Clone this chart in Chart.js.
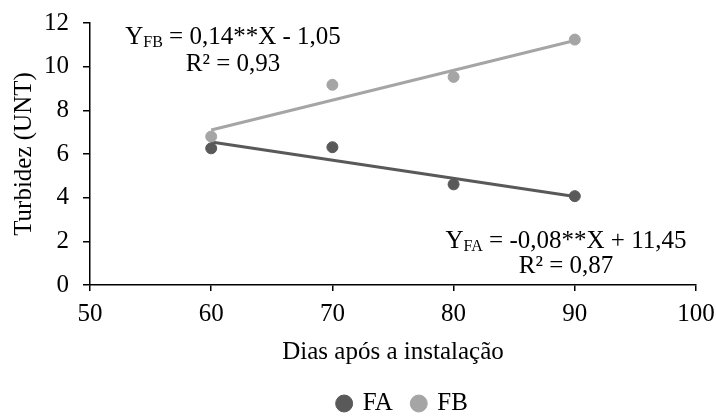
<!DOCTYPE html>
<html>
<head>
<meta charset="utf-8">
<script src="https://cdn.jsdelivr.net/npm/chart.js@4"></script>
<style>
  html, body { margin: 0; padding: 0; background: #fff; }
</style>
</head>
<body>
<canvas id="chart" width="716" height="418"></canvas>
<script>
// data
const days = [60, 70, 80, 90];
const faValues = [6.26, 6.31, 4.61, 4.07];
const fbValues = [6.8, 9.17, 9.53, 11.24];
// fitted lines, end points
const trendDays = [60, 90];
const faTrend = [6.55, 4.05];
const fbTrend = [7.1, 11.2];

const FONT = "'Liberation Serif', 'Times New Roman', serif";
const faColor = '#595959';
const fbColor = '#a5a5a5';

function pts(xs, ys) {
  return xs.map((x, i) => ({ x: x, y: ys[i] }));
}

// equations written on the plot, with subscripts
const equations = [
  { x: 233, y: 37, parts: [['Y'], ['FB', 1], [' = 0,14**X - 1,05']] },
  { x: 233, y: 64, parts: [['R² = 0,93']] },
  { x: 566, y: 241, parts: [['Y'], ['FA', 1], [' = -0,08**X + 11,45']] },
  { x: 566, y: 266, parts: [['R² = 0,87']] }
];

const eqPlugin = {
  id: 'equations',
  beforeLayout(chart) {
    // fixed legend height, and legend moved a bit right like in the picture
    const lg = chart.legend;
    if (lg && !lg._fixed) {
      const fit = lg.fit;
      const draw = lg.draw;
      lg.fit = function () { fit.call(this); this.height = 47; };
      lg.draw = function () {
        this.ctx.save();
        this.ctx.translate(55, 0);
        draw.call(this);
        this.ctx.restore();
      };
      lg._fixed = true;
    }
  },
  afterDatasetsDraw(chart) {
    const ctx = chart.ctx;
    ctx.save();
    ctx.fillStyle = '#000';
    ctx.textBaseline = 'middle';
    ctx.textAlign = 'left';
    equations.forEach(eq => {
      let w = 0;
      eq.parts.forEach(p => {
        ctx.font = (p[1] ? '16px ' : '25px ') + FONT;
        w += ctx.measureText(p[0]).width;
      });
      let x = eq.x - w / 2;
      eq.parts.forEach(p => {
        ctx.font = (p[1] ? '16px ' : '25px ') + FONT;
        ctx.fillText(p[0], x, eq.y + (p[1] ? 6 : 0));
        x += ctx.measureText(p[0]).width;
      });
    });
    ctx.restore();
  }
};

new Chart(document.getElementById('chart'), {
  type: 'scatter',
  data: {
    datasets: [
      { label: 'FA', data: pts(days, faValues), backgroundColor: faColor, borderColor: faColor,
        pointRadius: 5.5, pointHoverRadius: 5.5, order: 1 },
      { label: 'FB', data: pts(days, fbValues), backgroundColor: fbColor, borderColor: fbColor,
        pointRadius: 5.5, pointHoverRadius: 5.5, order: 1 },
      { label: 'trendFA', data: pts(trendDays, faTrend), showLine: true, borderColor: faColor,
        borderWidth: 3, pointRadius: 0, order: 2 },
      { label: 'trendFB', data: pts(trendDays, fbTrend), showLine: true, borderColor: fbColor,
        borderWidth: 3, pointRadius: 0, order: 2 }
    ]
  },
  options: {
    responsive: false,
    animation: false,
    layout: { padding: { top: 23, right: 20, left: 0, bottom: 0 } },
    plugins: {
      tooltip: { enabled: false },
      legend: {
        position: 'bottom',
        labels: {
          usePointStyle: true,
          pointStyle: 'circle',
          boxWidth: 12,
          boxHeight: 12,
          padding: 20,
          color: '#000',
          font: { family: FONT, size: 25 },
          filter: item => item.text === 'FA' || item.text === 'FB'
        }
      }
    },
    scales: {
      x: {
        type: 'linear',
        min: 50,
        max: 100,
        afterFit: s => { s.height = 86; s.paddingLeft = 0; s.paddingRight = 0; },
        ticks: { stepSize: 10, color: '#000', padding: 8, font: { family: FONT, size: 25 } },
        grid: { drawOnChartArea: false, tickLength: 6, color: '#000', lineWidth: 1.5 },
        border: { color: '#000', width: 1.5 },
        title: { display: true, text: 'Dias após a instalação', color: '#000',
                 font: { family: FONT, size: 25 }, padding: { top: 0, bottom: 4 } }
      },
      y: {
        min: 0,
        max: 12,
        afterFit: s => { s.width = 90; s.paddingTop = 0; s.paddingBottom = 0; },
        ticks: { stepSize: 2, color: '#000', padding: 14, font: { family: FONT, size: 25 } },
        grid: { drawOnChartArea: false, tickLength: 7, color: '#000', lineWidth: 1.5 },
        border: { color: '#000', width: 1.5 },
        title: { display: true, text: 'Turbidez (UNT)', color: '#000',
                 font: { family: FONT, size: 25 }, padding: { top: 9, bottom: 0 } }
      }
    }
  },
  plugins: [eqPlugin]
});
</script>
</body>
</html>
